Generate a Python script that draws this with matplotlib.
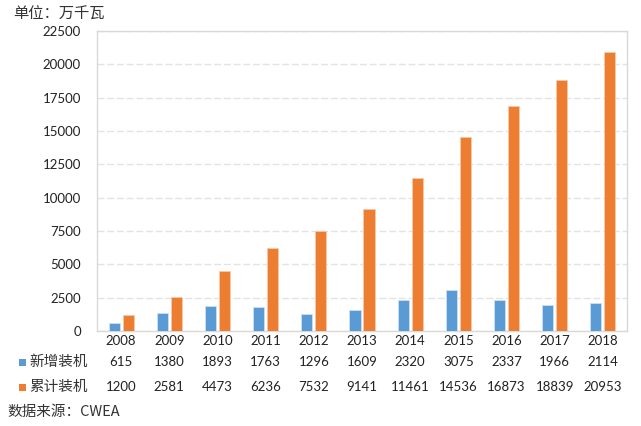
import matplotlib
matplotlib.use("Agg")
import matplotlib.pyplot as plt
from matplotlib.patches import Rectangle
import numpy as np

years = ["2008", "2009", "2010", "2011", "2012", "2013", "2014", "2015", "2016", "2017", "2018"]
new_install = [615, 1380, 1893, 1763, 1296, 1609, 2320, 3075, 2337, 1966, 2114]
cumulative = [1200, 2581, 4473, 6236, 7532, 9141, 11461, 14536, 16873, 18839, 20953]
series_names = ["新增装机", "累计装机"]
yticks = [0, 2500, 5000, 7500, 10000, 12500, 15000, 17500, 20000, 22500]
unit_label = "单位：万千瓦"
source_label = "数据来源：CWEA"

BLUE = "#5B9BD5"
ORANGE = "#ED7D31"
cjk = ["Noto Sans CJK SC", "DejaVu Sans"]
num_font = ["Lato", "DejaVu Sans"]

fig = plt.figure(figsize=(6.41, 4.26), dpi=100)
ax = fig.add_axes([97/641, 1-331/426, 530/641, 300/426])

x = np.arange(len(years))
w = 0.23
off = 0.145
ax.bar(x - off, new_install, width=w, color=BLUE, edgecolor="#cfe0f1", linewidth=0.6, zorder=3)
ax.bar(x + off, cumulative, width=w, color=ORANGE, edgecolor="#f7c9aa", linewidth=0.6, zorder=3)

ax.set_xlim(-0.5, len(years) - 0.5)
ax.set_ylim(0, 22500)
ax.set_yticks(yticks)
ax.set_yticklabels([str(v) for v in yticks], fontsize=9.5, family=num_font, color="#222222")
ax.set_xticks(x)
ax.set_xticklabels(years, fontsize=9.5, family=num_font, color="#222222")
ax.tick_params(axis="y", length=0, pad=11.5)
ax.tick_params(axis="x", length=0, pad=3)
ax.yaxis.grid(True, color="#e3e3e3", linestyle=(0, (5, 2)), linewidth=1.0, zorder=0)
for s in ax.spines.values():
    s.set_color("#d9d9d9")
    s.set_linewidth(1.0)

# data table rows
tr = ax.get_xaxis_transform()
row_y = [-(362-331)/300, -(387-331)/300]
for vals, ry in zip([new_install, cumulative], row_y):
    for xi, v in zip(x, vals):
        ax.text(xi, ry, str(v), transform=tr, ha="center", va="center",
                fontsize=9.5, family=num_font, color="#222222", clip_on=False)

for name, color, yp in zip(series_names, [BLUE, ORANGE], [362, 387]):
    fig.patches.append(Rectangle((19/641, 1-(yp+4)/426), 7/641, 7/426,
                                 transform=fig.transFigure, facecolor=color, edgecolor="none"))
    fig.text(29/641, 1-yp/426, name, ha="left", va="center", fontsize=10.5,
             family=cjk, color="#333333")

fig.text(13/641, 1-14/426, unit_label, ha="left", va="center", fontsize=11,
         family=cjk, color="#333333")
fig.text(7/641, 1-412/426, source_label, ha="left", va="center", fontsize=10.5,
         family=cjk, color="#333333")

fig.savefig("out.png", dpi=100)
